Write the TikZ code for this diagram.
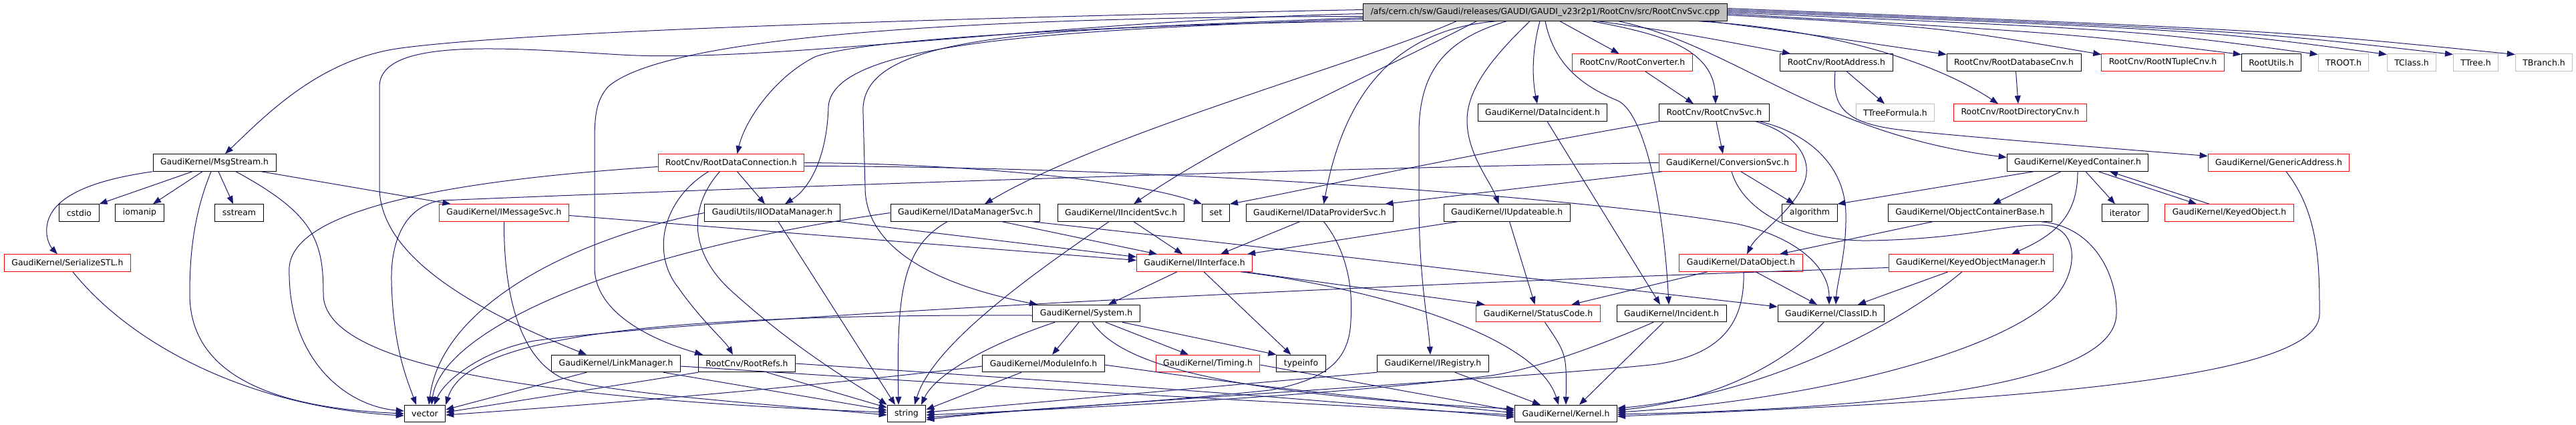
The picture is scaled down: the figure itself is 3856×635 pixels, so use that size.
\documentclass[tikz,border=0pt]{standalone}
\usepackage{fontspec}
\setmainfont{DejaVu Sans}
\usepackage{tikz}
\usetikzlibrary{arrows.meta}
\usepackage{xcolor}
\definecolor{midnightblue}{RGB}{25,25,112}
\definecolor{grey75}{RGB}{191,191,191}

\begin{document}
\begin{tikzpicture}[x=1pt, y=-1pt, font=\fontsize{12.46}{14}\selectfont,
	hdr/.style={draw=black, line width=1pt, inner xsep=11pt, inner ysep=0pt, minimum height=25.5pt},
	hdrred/.style={hdr, draw=red},
	hdrext/.style={hdr, draw=grey75},
	hdrroot/.style={hdr, fill=grey75},
	dep/.style={midnightblue, line width=1pt, -{Triangle[length=12pt, width=9pt]}}]
	\fill[white] (0,0) rectangle (3856,635);
	\useasboundingbox (0,0) rectangle (3856,635);

	\node[hdrroot] at (2313, 18.5) (root) {/afs/cern.ch/sw/Gaudi/releases/GAUDI/GAUDI\_v23r2p1/RootCnv/src/RootCnvSvc.cpp};

	\node[hdrred] at (2443.6, 93.5) (rconv) {RootCnv/RootConverter.h};
	\node[hdr] at (2749, 93.5) (raddress) {RootCnv/RootAddress.h};
	\node[hdr] at (3014.5, 93.5) (rdbcnv) {RootCnv/RootDatabaseCnv.h};
	\node[hdrred] at (3237.5, 93.5) (rntuple) {RootCnv/RootNTupleCnv.h};
	\node[hdr] at (3400, 93.5) (rootutils) {RootUtils.h};
	\node[hdrext] at (3508, 93.5) (troot) {TROOT.h};
	\node[hdrext] at (3610, 93.5) (tclass) {TClass.h};
	\node[hdrext] at (3706, 93.5) (ttree) {TTree.h};
	\node[hdrext] at (3808, 93.5) (tbranch) {TBranch.h};

	\node[hdr] at (2309, 168.5) (dataincident) {GaudiKernel/DataIncident.h};
	\node[hdr] at (2566, 168.5) (rcnvsvc) {RootCnv/RootCnvSvc.h};
	\node[hdrext] at (2837, 168.5) (ttreeform) {TTreeFormula.h};
	\node[hdrred] at (3024, 168.5) (rdircnv) {RootCnv/RootDirectoryCnv.h};

	\node[hdr] at (321, 243.5) (msgstream) {GaudiKernel/MsgStream.h};
	\node[hdrred] at (1094.5, 243.5) (rdconn) {RootCnv/RootDataConnection.h};
	\node[hdrred] at (2586, 243.5) (convsvc) {GaudiKernel/ConversionSvc.h};
	\node[hdr] at (3110, 243.5) (keyedcont) {GaudiKernel/KeyedContainer.h};
	\node[hdrred] at (3411, 243.5) (genaddr) {GaudiKernel/GenericAddress.h};

	\node[hdr] at (118.5, 318.5) (cstdio) {cstdio};
	\node[hdr] at (209, 318.5) (iomanip) {iomanip};
	\node[hdr] at (358, 318.5) (sstream) {sstream};
	\node[hdrred] at (754.5, 318.5) (imsgsvc) {GaudiKernel/IMessageSvc.h};
	\node[hdr] at (1156, 318.5) (iiodm) {GaudiUtils/IIODataManager.h};
	\node[hdr] at (1445, 318.5) (idmsvc) {GaudiKernel/IDataManagerSvc.h};
	\node[hdr] at (1678, 318.5) (iincsvc) {GaudiKernel/IIncidentSvc.h};
	\node[hdr] at (1820, 318.5) (set) {set};
	\node[hdr] at (1975.5, 318.5) (idpsvc) {GaudiKernel/IDataProviderSvc.h};
	\node[hdr] at (2255.6, 318.5) (iupdate) {GaudiKernel/IUpdateable.h};
	\node[hdr] at (2709, 318.5) (algorithm) {algorithm};
	\node[hdr] at (2949, 318.5) (objcontbase) {GaudiKernel/ObjectContainerBase.h};
	\node[hdr] at (3181, 318.5) (iterator) {iterator};
	\node[hdrred] at (3337, 318.5) (keyedobj) {GaudiKernel/KeyedObject.h};

	\node[hdrred] at (101, 393.5) (serial) {GaudiKernel/SerializeSTL.h};
	\node[hdrred] at (1788, 393.5) (iinterface) {GaudiKernel/IInterface.h};
	\node[hdrred] at (2606, 393.5) (dataobject) {GaudiKernel/DataObject.h};
	\node[hdrred] at (2950, 393.5) (keyedobjmgr) {GaudiKernel/KeyedObjectManager.h};

	\node[hdr] at (1626, 469) (system) {GaudiKernel/System.h};
	\node[hdrred] at (2302.5, 469) (statuscode) {GaudiKernel/StatusCode.h};
	\node[hdr] at (2502, 469) (incident) {GaudiKernel/Incident.h};
	\node[hdr] at (2741, 469) (classid) {GaudiKernel/ClassID.h};

	\node[hdr] at (922, 544) (linkmgr) {GaudiKernel/LinkManager.h};
	\node[hdr] at (1118, 544) (rootrefs) {RootCnv/RootRefs.h};
	\node[hdr] at (1562, 544) (modinfo) {GaudiKernel/ModuleInfo.h};
	\node[hdrred] at (1808, 544) (timing) {GaudiKernel/Timing.h};
	\node[hdr] at (1947.5, 544) (typeinfo) {typeinfo};
	\node[hdr] at (2145, 544) (iregistry) {GaudiKernel/IRegistry.h};

	\node[hdr] at (636, 619) (vector) {vector};
	\node[hdr] at (1357, 619) (string) {string};
	\node[hdr] at (2344, 619) (kernel) {GaudiKernel/Kernel.h};

	\draw
	([xshift=22]root.south) edge[dep] ([xshift=-20]rconv.north)
	([xshift=-33]msgstream.south) edge[dep] (cstdio.north east)
	([xshift=-18]msgstream.south) edge[dep] ([xshift=20]iomanip.north)
	([xshift=6]msgstream.south) edge[dep] ([xshift=-9]sstream.north)
	([xshift=70]msgstream.south) edge[dep] ([xshift=-80]imsgsvc.north)
	([yshift=-4]imsgsvc.east) edge[dep] ([yshift=4]iinterface.west)
	([xshift=9]rdconn.south) edge[dep] ([xshift=-11]iiodm.north)
	([xshift=9]iiodm.south) edge[dep] ([xshift=-17]string.north)
	(iiodm.south east) edge[dep] ([yshift=9]iinterface.west)
	([xshift=55]idmsvc.south) edge[dep] ([xshift=-56]iinterface.north)
	([xshift=19]iincsvc.south) edge[dep] ([xshift=-18]iinterface.north)
	([xshift=-30]idpsvc.south) edge[dep] ([xshift=39]iinterface.north)
	([xshift=-74]iupdate.south) edge[dep] ([xshift=-8]iinterface.north east)
	([xshift=4]iupdate.south) edge[dep] ([xshift=-5]statuscode.north)
	([xshift=-26]iinterface.south) edge[dep] ([xshift=33]system.north)
	([xshift=14]iinterface.south) edge[dep] ([xshift=-15]typeinfo.north)
	([xshift=75]iinterface.south) edge[dep] ([xshift=-80]statuscode.north)
	([xshift=-11]system.south) edge[dep] ([xshift=13]modinfo.north)
	([xshift=29]system.south) edge[dep] ([xshift=-29]timing.north)
	([xshift=54]system.south) edge[dep] (typeinfo.north west)
	([yshift=-2]timing.east) edge[dep] ([yshift=4]kernel.west)
	([xshift=-33]modinfo.south) edge[dep] ([yshift=6]string.east)
	([xshift=-44]linkmgr.south) edge[dep] ([yshift=6]vector.east)
	([xshift=71]linkmgr.south) edge[dep] ([yshift=5]string.west)
	([xshift=-73]rootrefs.south) edge[dep] ([yshift=2]vector.east)
	([xshift=30]rootrefs.south) edge[dep] ([yshift=9]string.west)
	([xshift=33]iregistry.south) edge[dep] ([xshift=-38]kernel.north)
	([xshift=-12]incident.south) edge[dep] ([xshift=20]kernel.north)
	([xshift=7]dataincident.south) edge[dep] ([xshift=-17]incident.north)
	([xshift=19]rconv.south) edge[dep] ([xshift=-31]rcnvsvc.north)
	([xshift=3]rcnvsvc.south) edge[dep] ([xshift=-7]convsvc.north)
	([xshift=-98]convsvc.south) edge[dep] ([xshift=98]idpsvc.north)
	([xshift=20]convsvc.south) edge[dep] ([xshift=-23]algorithm.north)
	([xshift=15]raddress.south) edge[dep] ([xshift=-16]ttreeform.north)
	([xshift=3]rdbcnv.south) edge[dep] ([xshift=-3]rdircnv.north)
	([xshift=-66]keyedcont.south) edge[dep] (algorithm.north east)
	([xshift=-25]keyedcont.south) edge[dep] ([xshift=34]objcontbase.north)
	([xshift=12]keyedcont.south) edge[dep] ([xshift=-15]iterator.north)
	([xshift=31]keyedcont.south) edge[dep] ([xshift=-49]keyedobj.north)
	([xshift=-30]keyedobj.north) edge[dep] ([xshift=48]keyedcont.south)
	([xshift=-56]objcontbase.south) edge[dep] ([xshift=58]dataobject.north)
	([xshift=-34]keyedobjmgr.south) edge[dep] ([xshift=40]classid.north)
	([xshift=22]dataobject.south) edge[dep] ([xshift=-21]classid.north);

	\draw[dep] ([yshift=4]root.west) .. controls (1500,25) and (800,45) .. (600,72) .. controls (480,88) and (400,170) .. ([xshift=16]msgstream.north);
	\draw[dep] ([yshift=-2]root.west) .. controls (1600,30) and (1150,95) .. (930,82) .. controls (760,72) and (568,55) .. (568,130) -- (568,280) .. controls (568,380) and (700,460) .. ([xshift=-44]linkmgr.north);
	\draw[dep] ([yshift=-6]root.west) .. controls (1500,25) and (1000,50) .. (910,130) .. controls (893,150) and (891,170) .. (890,200) -- (890,400) .. controls (890,470) and (980,510) .. ([xshift=-66]rootrefs.north);
	\draw[dep] ([yshift=-8]root.west) .. controls (1700,40) and (1300,55) .. (1220,85) .. controls (1160,115) and (1115,180) .. ([xshift=9]rdconn.north);
	\draw[dep] ([yshift=-10]root.west) .. controls (1600,45) and (1245,60) .. (1240,160) .. controls (1238,230) and (1215,280) .. ([xshift=19]iiodm.north);
	\draw[dep] (root.south west) .. controls (1500,40) and (1285,60) .. (1292,170) -- (1295,280) .. controls (1295,380) and (1420,430) .. ([xshift=-73]system.north);
	\draw[dep] ([xshift=-133]root.south) .. controls (2050,90) and (1650,200) .. ([xshift=29]idmsvc.north);
	\draw[dep] ([xshift=-103]root.south) .. controls (2080,100) and (1850,200) .. ([xshift=19]iincsvc.north);
	\draw[dep] ([xshift=-73]root.south) .. controls (2080,45) and (2010,150) .. ([xshift=6]idpsvc.north);
	\draw[dep] ([xshift=-58]root.south) .. controls (2160,60) and (2124,110) .. (2124,200) -- (2124,300) .. controls (2124,420) and (2138,480) .. ([xshift=-4]iregistry.north);
	\draw[dep] ([xshift=-23]root.south) .. controls (2240,80) and (2196,130) .. (2196,180) .. controls (2196,230) and (2230,270) .. ([xshift=-12]iupdate.north);
	\draw[dep] ([xshift=-8]root.south) .. controls (2292,80) and (2294,120) .. ([xshift=-8]dataincident.north);
	\draw[dep] (root.south) .. controls (2325,90) and (2360,125) .. (2420,150) .. controls (2460,165) and (2490,300) .. ([xshift=-4]incident.north);
	\draw[dep] ([xshift=70]root.south) .. controls (2480,50) and (2566,70) .. ([xshift=2]rcnvsvc.north);
	\draw[dep] ([xshift=80]root.south) .. controls (2520,50) .. ([xshift=-69]raddress.north);
	\draw[dep] ([xshift=110]root.south) .. controls (2600,70) and (2720,200) .. ([yshift=8]keyedcont.west);
	\draw[dep] ([xshift=230]root.south) .. controls (2750,45) and (2900,95) .. ([xshift=-33]rdircnv.north);
	\draw[dep] ([xshift=245]root.south) .. controls (2700,50) .. ([yshift=12]rdbcnv.west);
	\draw[dep] ([yshift=-4]root.east) .. controls (2900,40) .. ([yshift=12]rntuple.west);
	\draw[dep] ([yshift=-2]root.east) .. controls (3100,50) .. ([yshift=12]rootutils.west);
	\draw[dep] (root.east) .. controls (3200,45) .. ([yshift=12]troot.west);
	\draw[dep] ([yshift=2]root.east) .. controls (3300,45) .. ([yshift=12]tclass.west);
	\draw[dep] ([yshift=4]root.east) .. controls (3350,45) .. ([yshift=12]ttree.west);
	\draw[dep] ([yshift=6]root.east) .. controls (3400,45) .. ([yshift=12]tbranch.west);

	\draw[dep] (msgstream.south west) .. controls (150,268) and (75,290) .. (70,340) .. controls (68,360) and (78,372) .. ([xshift=-15]serial.north);
	\draw[dep] ([xshift=-5]msgstream.south) .. controls (290,320) and (284,380) .. (284,440) .. controls (284,580) and (450,612) .. (vector.west);
	\draw[dep] ([xshift=32]msgstream.south) .. controls (470,320) and (484,360) .. (484,440) .. controls (484,550) and (820,598) .. ([yshift=2]string.west);
	\draw[dep] ([xshift=8]serial.south) .. controls (200,520) and (380,610) .. ([yshift=-3]vector.west);
	\draw[dep] (imsgsvc.south) .. controls (754,420) and (770,530) .. (840,565) .. controls (900,588) and (1150,605) .. ([yshift=-2]string.west);

	\draw[dep] ([yshift=-6]rdconn.west) .. controls (750,265) and (440,300) .. (433,400) .. controls (430,540) and (520,608) .. ([yshift=4]vector.west);
	\draw[dep] ([xshift=-34]rdconn.south) .. controls (990,300) and (975,380) .. (1015,430) .. controls (1050,480) and (1085,510) .. ([xshift=-21]rootrefs.north);
	\draw[dep] ([xshift=-17]rdconn.south) .. controls (1030,310) and (1030,380) .. (1100,440) .. controls (1200,530) and (1290,580) .. (string.north west);
	\draw[dep] (rdconn.east) .. controls (1450,245) and (1700,270) .. (set.north west);
	\draw[dep] ([yshift=-5]rdconn.east) .. controls (1800,250) and (2400,300) .. (2600,335) .. controls (2690,355) and (2738,400) .. ([xshift=-3]classid.north);

	\draw[dep] (convsvc.west) .. controls (1800,255) and (900,290) .. (660,300) .. controls (600,310) and (585,370) .. (586,420) .. controls (588,520) and (610,570) .. ([xshift=-13]vector.north);
	\draw[dep] ([xshift=6]convsvc.south) .. controls (2610,320) and (2700,362) .. (2800,360) .. controls (2950,357) and (3000,335) .. (3060,337) .. controls (3110,340) and (3112,400) .. (3080,440) .. controls (3000,530) and (2700,600) .. ([yshift=2]kernel.east);
	\draw[dep] (rcnvsvc.south west) .. controls (2150,240) and (1950,285) .. (set.north east);
	\draw[dep] ([xshift=62]rcnvsvc.south) .. controls (2690,200) and (2715,240) .. (2700,275) .. controls (2680,320) and (2630,350) .. ([xshift=9]dataobject.north);
	\draw[dep] ([xshift=68]rcnvsvc.south) .. controls (2710,200) and (2762,250) .. (2763,320) .. controls (2764,380) and (2750,420) .. ([xshift=7]classid.north);
	\draw[dep] ([xshift=-2]raddress.south) .. controls (2742,160) and (2760,185) .. (2850,195) .. controls (3000,210) and (3200,225) .. ([yshift=10]genaddr.west);
	\draw[dep] (keyedcont.south) .. controls (3110,320) and (3080,350) .. ([xshift=61]keyedobjmgr.north);
	\draw[dep] ([xshift=107]objcontbase.south) .. controls (3140,340) and (3170,420) .. (3168,470) .. controls (3166,580) and (2800,612) .. ([yshift=-1]kernel.east);
	\draw[dep] ([xshift=-13]keyedobjmgr.south) .. controls (2850,480) and (2650,590) .. ([yshift=8]kernel.east);
	\draw[dep] ([yshift=-7]keyedobjmgr.west) .. controls (2200,420) and (1100,470) .. (800,510) .. controls (720,525) and (665,570) .. ([xshift=14]vector.north);
	\draw[dep] ([xshift=-11]classid.south) .. controls (2665,550) and (2560,600) .. ([yshift=5]kernel.east);
	\draw[dep] ([xshift=11]genaddr.south) .. controls (3472,320) and (3472,400) .. (3472,470) .. controls (3472,570) and (3000,600) .. ([yshift=-4]kernel.east);

	\draw[dep] ([xshift=-50]dataobject.south) .. controls (2480,425) .. ([xshift=50]statuscode.north);
	\draw[dep] ([xshift=4]dataobject.south) .. controls (2612,480) and (2580,530) .. (2480,545) .. controls (2350,560) and (1700,600) .. ([yshift=-6]string.east);
	\draw[dep] ([xshift=-27]incident.south) .. controls (2400,515) and (2300,552) .. (2232,562) .. controls (2000,592) and (1600,612) .. ([yshift=-2]string.east);
	\draw[dep] ([xshift=10]statuscode.south) .. controls (2345,530) .. (kernel.north);
	\draw[dep] (iregistry.south west) .. controls (1800,580) .. ([yshift=2]string.east);
	\draw[dep] ([xshift=6]idpsvc.south) .. controls (2020,380) and (2025,440) .. (2022,480) .. controls (2020,540) and (1985,568) .. (1900,584) .. controls (1700,605) and (1500,614) .. ([yshift=-9]string.east);
	\draw[dep] ([xshift=-27]idmsvc.south) .. controls (1350,370) and (1342,440) .. ([xshift=-12]string.north);
	\draw[dep] (idmsvc.west) .. controls (900,380) and (660,500) .. ([xshift=10]vector.north);
	\draw[dep] ([xshift=100]idmsvc.south) .. controls (1900,370) and (2400,430) .. ([yshift=10]classid.west);
	\draw[dep] (iiodm.west) .. controls (850,360) and (660,460) .. ([xshift=6]vector.north);
	\draw[dep] ([xshift=-18]iincsvc.south) .. controls (1530,420) and (1395,520) .. ([xshift=12]string.north);
	\draw[dep] ([xshift=69]iinterface.south) .. controls (2050,430) and (2300,500) .. ([xshift=-11]kernel.north);
	\draw[dep] ([xshift=-47]system.south) .. controls (1480,515) and (1400,560) .. ([xshift=22]string.north);
	\draw[dep] ([xshift=9]system.south) .. controls (1680,550) and (1850,590) .. ([yshift=7]kernel.west);
	\draw[dep] ([yshift=-3]system.west) .. controls (1000,470) and (700,500) .. (vector.north east);
	\draw[dep] ([yshift=-2]modinfo.east) .. controls (1900,580) .. ([yshift=1]kernel.west);
	\draw[dep] ([yshift=-4]modinfo.west) .. controls (1200,580) and (900,605) .. ([yshift=-2]vector.east);
	\draw[dep] ([yshift=-4]linkmgr.east) .. controls (1600,585) .. ([yshift=-2]kernel.west);
	\draw[dep] (rootrefs.east) .. controls (1800,585) .. ([yshift=-5]kernel.west);
\end{tikzpicture}
\end{document}
